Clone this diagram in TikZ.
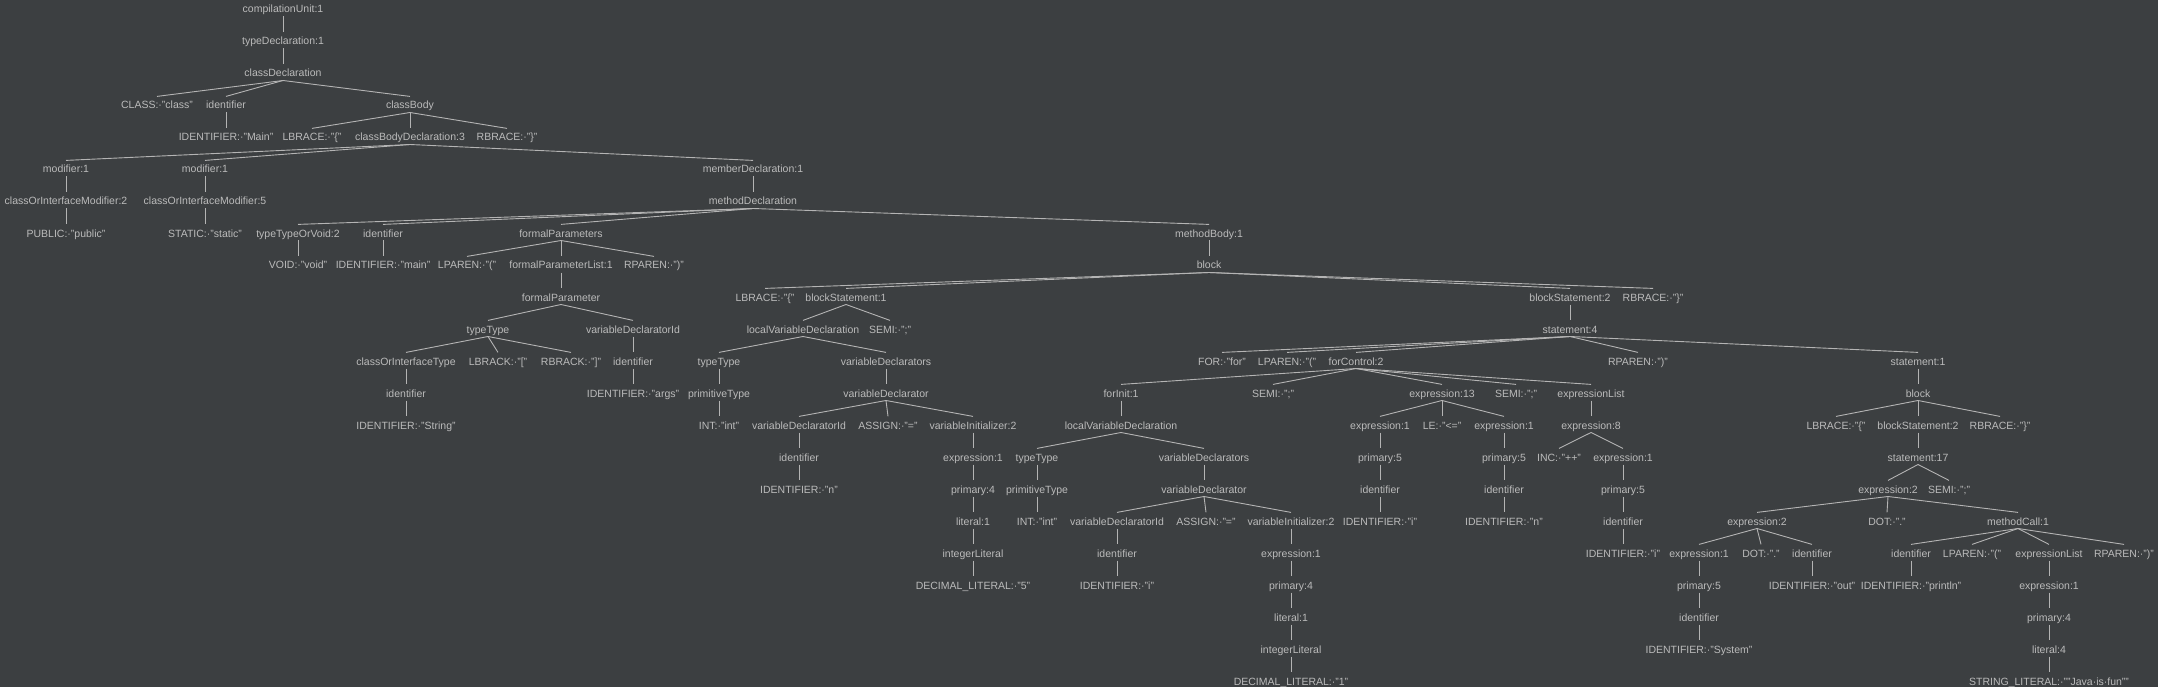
\documentclass[tikz,border=0pt]{standalone}
\usepackage{fontspec}
\setmainfont{Liberation Sans}
\usepackage{tikz}
\definecolor{bgdark}{HTML}{3C3F41}
\definecolor{treetext}{HTML}{BBBBBB}
\definecolor{treeline}{HTML}{B4B4B4}

\begin{document}
\begin{tikzpicture}[x=1pt,y=-1pt,
  every node/.style={text=treetext,font=\fontsize{10.5}{12}\selectfont,inner sep=0pt,text height=12.4pt,text depth=3.3pt,anchor=base},
  branch/.style={treeline,line width=0.9pt}]
\useasboundingbox (0,0) rectangle (2158,687);
\fill[bgdark] (0,0) rectangle (2158,687);
\node (1) at (283,13) {compilationUnit:1};
\node (2) at (283,45) {typeDeclaration:1};
\node (3) at (283,77) {classDeclaration};
\node (4) at (157,109) {CLASS:·"class"};
\node (5) at (226,109) {identifier};
\node (6) at (410,109) {classBody};
\node (7) at (226,141) {IDENTIFIER:·"Main"};
\node (8) at (312,141) {LBRACE:·"\{"};
\node (9) at (410,141) {classBodyDeclaration:3};
\node (10) at (507,141) {RBRACE:·"\}"};
\node (11) at (66,173) {modifier:1};
\node (12) at (205,173) {modifier:1};
\node (13) at (753,173) {memberDeclaration:1};
\node (14) at (66,205) {classOrInterfaceModifier:2};
\node (15) at (205,205) {classOrInterfaceModifier:5};
\node (16) at (753,205) {methodDeclaration};
\node (17) at (66,237) {PUBLIC:·"public"};
\node (18) at (205,237) {STATIC:·"static"};
\node (19) at (298,237) {typeTypeOrVoid:2};
\node (20) at (383,237) {identifier};
\node (21) at (561,237) {formalParameters};
\node (22) at (1209,237) {methodBody:1};
\node (23) at (298,269) {VOID:·"void"};
\node (24) at (383,269) {IDENTIFIER:·"main"};
\node (25) at (467,269) {LPAREN:·"("};
\node (26) at (561,269) {formalParameterList:1};
\node (27) at (654,269) {RPAREN:·")"};
\node (28) at (1209,269) {block};
\node (29) at (561,301) {formalParameter};
\node (30) at (765,301) {LBRACE:·"\{"};
\node (31) at (846,301) {blockStatement:1};
\node (32) at (1570,301) {blockStatement:2};
\node (33) at (1653,301) {RBRACE:·"\}"};
\node (34) at (488,333) {typeType};
\node (35) at (633,333) {variableDeclaratorId};
\node (36) at (803,333) {localVariableDeclaration};
\node (37) at (890,333) {SEMI:·";"};
\node (38) at (1570,333) {statement:4};
\node (39) at (406,365) {classOrInterfaceType};
\node (40) at (498,365) {LBRACK:·"["};
\node (41) at (571,365) {RBRACK:·"]"};
\node (42) at (633,365) {identifier};
\node (43) at (719,365) {typeType};
\node (44) at (886,365) {variableDeclarators};
\node (45) at (1222,365) {FOR:·"for"};
\node (46) at (1287,365) {LPAREN:·"("};
\node (47) at (1356,365) {forControl:2};
\node (48) at (1638,365) {RPAREN:·")"};
\node (49) at (1918,365) {statement:1};
\node (50) at (406,397) {identifier};
\node (51) at (633,397) {IDENTIFIER:·"args"};
\node (52) at (719,397) {primitiveType};
\node (53) at (886,397) {variableDeclarator};
\node (54) at (1121,397) {forInit:1};
\node (55) at (1273,397) {SEMI:·";"};
\node (56) at (1442,397) {expression:13};
\node (57) at (1516,397) {SEMI:·";"};
\node (58) at (1591,397) {expressionList};
\node (59) at (1918,397) {block};
\node (60) at (406,429) {IDENTIFIER:·"String"};
\node (61) at (719,429) {INT:·"int"};
\node (62) at (799,429) {variableDeclaratorId};
\node (63) at (888,429) {ASSIGN:·"="};
\node (64) at (973,429) {variableInitializer:2};
\node (65) at (1121,429) {localVariableDeclaration};
\node (66) at (1380,429) {expression:1};
\node (67) at (1442,429) {LE:·"<="};
\node (68) at (1504,429) {expression:1};
\node (69) at (1591,429) {expression:8};
\node (70) at (1836,429) {LBRACE:·"\{"};
\node (71) at (1918,429) {blockStatement:2};
\node (72) at (2000,429) {RBRACE:·"\}"};
\node (73) at (799,461) {identifier};
\node (74) at (973,461) {expression:1};
\node (75) at (1037,461) {typeType};
\node (76) at (1204,461) {variableDeclarators};
\node (77) at (1380,461) {primary:5};
\node (78) at (1504,461) {primary:5};
\node (79) at (1559,461) {INC:·"++"};
\node (80) at (1623,461) {expression:1};
\node (81) at (1918,461) {statement:17};
\node (82) at (799,493) {IDENTIFIER:·"n"};
\node (83) at (973,493) {primary:4};
\node (84) at (1037,493) {primitiveType};
\node (85) at (1204,493) {variableDeclarator};
\node (86) at (1380,493) {identifier};
\node (87) at (1504,493) {identifier};
\node (88) at (1623,493) {primary:5};
\node (89) at (1888,493) {expression:2};
\node (90) at (1949,493) {SEMI:·";"};
\node (91) at (973,525) {literal:1};
\node (92) at (1037,525) {INT:·"int"};
\node (93) at (1117,525) {variableDeclaratorId};
\node (94) at (1206,525) {ASSIGN:·"="};
\node (95) at (1291,525) {variableInitializer:2};
\node (96) at (1380,525) {IDENTIFIER:·"i"};
\node (97) at (1504,525) {IDENTIFIER:·"n"};
\node (98) at (1623,525) {identifier};
\node (99) at (1757,525) {expression:2};
\node (100) at (1887,525) {DOT:·"."};
\node (101) at (2018,525) {methodCall:1};
\node (102) at (973,557) {integerLiteral};
\node (103) at (1117,557) {identifier};
\node (104) at (1291,557) {expression:1};
\node (105) at (1623,557) {IDENTIFIER:·"i"};
\node (106) at (1699,557) {expression:1};
\node (107) at (1761,557) {DOT:·"."};
\node (108) at (1812,557) {identifier};
\node (109) at (1911,557) {identifier};
\node (110) at (1972,557) {LPAREN:·"("};
\node (111) at (2049,557) {expressionList};
\node (112) at (2124,557) {RPAREN:·")"};
\node (113) at (973,589) {DECIMAL\_LITERAL:·"5"};
\node (114) at (1117,589) {IDENTIFIER:·"i"};
\node (115) at (1291,589) {primary:4};
\node (116) at (1699,589) {primary:5};
\node (117) at (1812,589) {IDENTIFIER:·"out"};
\node (118) at (1911,589) {IDENTIFIER:·"println"};
\node (119) at (2049,589) {expression:1};
\node (120) at (1291,621) {literal:1};
\node (121) at (1699,621) {identifier};
\node (122) at (2049,621) {primary:4};
\node (123) at (1291,653) {integerLiteral};
\node (124) at (1699,653) {IDENTIFIER:·"System"};
\node (125) at (2049,653) {literal:4};
\node (126) at (1291,685) {DECIMAL\_LITERAL:·"1"};
\node (127) at (2049,685) {STRING\_LITERAL:·""Java·is·fun""};
\draw[branch] (1.south) -- (2.north);
\draw[branch] (2.south) -- (3.north);
\draw[branch] (3.south) -- (4.north);
\draw[branch] (3.south) -- (5.north);
\draw[branch] (3.south) -- (6.north);
\draw[branch] (5.south) -- (7.north);
\draw[branch] (6.south) -- (8.north);
\draw[branch] (6.south) -- (9.north);
\draw[branch] (6.south) -- (10.north);
\draw[branch] (9.south) -- (11.north);
\draw[branch] (9.south) -- (12.north);
\draw[branch] (9.south) -- (13.north);
\draw[branch] (11.south) -- (14.north);
\draw[branch] (12.south) -- (15.north);
\draw[branch] (13.south) -- (16.north);
\draw[branch] (14.south) -- (17.north);
\draw[branch] (15.south) -- (18.north);
\draw[branch] (16.south) -- (19.north);
\draw[branch] (16.south) -- (20.north);
\draw[branch] (16.south) -- (21.north);
\draw[branch] (16.south) -- (22.north);
\draw[branch] (19.south) -- (23.north);
\draw[branch] (20.south) -- (24.north);
\draw[branch] (21.south) -- (25.north);
\draw[branch] (21.south) -- (26.north);
\draw[branch] (21.south) -- (27.north);
\draw[branch] (22.south) -- (28.north);
\draw[branch] (26.south) -- (29.north);
\draw[branch] (28.south) -- (30.north);
\draw[branch] (28.south) -- (31.north);
\draw[branch] (28.south) -- (32.north);
\draw[branch] (28.south) -- (33.north);
\draw[branch] (29.south) -- (34.north);
\draw[branch] (29.south) -- (35.north);
\draw[branch] (31.south) -- (36.north);
\draw[branch] (31.south) -- (37.north);
\draw[branch] (32.south) -- (38.north);
\draw[branch] (34.south) -- (39.north);
\draw[branch] (34.south) -- (40.north);
\draw[branch] (34.south) -- (41.north);
\draw[branch] (35.south) -- (42.north);
\draw[branch] (36.south) -- (43.north);
\draw[branch] (36.south) -- (44.north);
\draw[branch] (38.south) -- (45.north);
\draw[branch] (38.south) -- (46.north);
\draw[branch] (38.south) -- (47.north);
\draw[branch] (38.south) -- (48.north);
\draw[branch] (38.south) -- (49.north);
\draw[branch] (39.south) -- (50.north);
\draw[branch] (42.south) -- (51.north);
\draw[branch] (43.south) -- (52.north);
\draw[branch] (44.south) -- (53.north);
\draw[branch] (47.south) -- (54.north);
\draw[branch] (47.south) -- (55.north);
\draw[branch] (47.south) -- (56.north);
\draw[branch] (47.south) -- (57.north);
\draw[branch] (47.south) -- (58.north);
\draw[branch] (49.south) -- (59.north);
\draw[branch] (50.south) -- (60.north);
\draw[branch] (52.south) -- (61.north);
\draw[branch] (53.south) -- (62.north);
\draw[branch] (53.south) -- (63.north);
\draw[branch] (53.south) -- (64.north);
\draw[branch] (54.south) -- (65.north);
\draw[branch] (56.south) -- (66.north);
\draw[branch] (56.south) -- (67.north);
\draw[branch] (56.south) -- (68.north);
\draw[branch] (58.south) -- (69.north);
\draw[branch] (59.south) -- (70.north);
\draw[branch] (59.south) -- (71.north);
\draw[branch] (59.south) -- (72.north);
\draw[branch] (62.south) -- (73.north);
\draw[branch] (64.south) -- (74.north);
\draw[branch] (65.south) -- (75.north);
\draw[branch] (65.south) -- (76.north);
\draw[branch] (66.south) -- (77.north);
\draw[branch] (68.south) -- (78.north);
\draw[branch] (69.south) -- (79.north);
\draw[branch] (69.south) -- (80.north);
\draw[branch] (71.south) -- (81.north);
\draw[branch] (73.south) -- (82.north);
\draw[branch] (74.south) -- (83.north);
\draw[branch] (75.south) -- (84.north);
\draw[branch] (76.south) -- (85.north);
\draw[branch] (77.south) -- (86.north);
\draw[branch] (78.south) -- (87.north);
\draw[branch] (80.south) -- (88.north);
\draw[branch] (81.south) -- (89.north);
\draw[branch] (81.south) -- (90.north);
\draw[branch] (83.south) -- (91.north);
\draw[branch] (84.south) -- (92.north);
\draw[branch] (85.south) -- (93.north);
\draw[branch] (85.south) -- (94.north);
\draw[branch] (85.south) -- (95.north);
\draw[branch] (86.south) -- (96.north);
\draw[branch] (87.south) -- (97.north);
\draw[branch] (88.south) -- (98.north);
\draw[branch] (89.south) -- (99.north);
\draw[branch] (89.south) -- (100.north);
\draw[branch] (89.south) -- (101.north);
\draw[branch] (91.south) -- (102.north);
\draw[branch] (93.south) -- (103.north);
\draw[branch] (95.south) -- (104.north);
\draw[branch] (98.south) -- (105.north);
\draw[branch] (99.south) -- (106.north);
\draw[branch] (99.south) -- (107.north);
\draw[branch] (99.south) -- (108.north);
\draw[branch] (101.south) -- (109.north);
\draw[branch] (101.south) -- (110.north);
\draw[branch] (101.south) -- (111.north);
\draw[branch] (101.south) -- (112.north);
\draw[branch] (102.south) -- (113.north);
\draw[branch] (103.south) -- (114.north);
\draw[branch] (104.south) -- (115.north);
\draw[branch] (106.south) -- (116.north);
\draw[branch] (108.south) -- (117.north);
\draw[branch] (109.south) -- (118.north);
\draw[branch] (111.south) -- (119.north);
\draw[branch] (115.south) -- (120.north);
\draw[branch] (116.south) -- (121.north);
\draw[branch] (119.south) -- (122.north);
\draw[branch] (120.south) -- (123.north);
\draw[branch] (121.south) -- (124.north);
\draw[branch] (122.south) -- (125.north);
\draw[branch] (123.south) -- (126.north);
\draw[branch] (125.south) -- (127.north);
\end{tikzpicture}
\end{document}
